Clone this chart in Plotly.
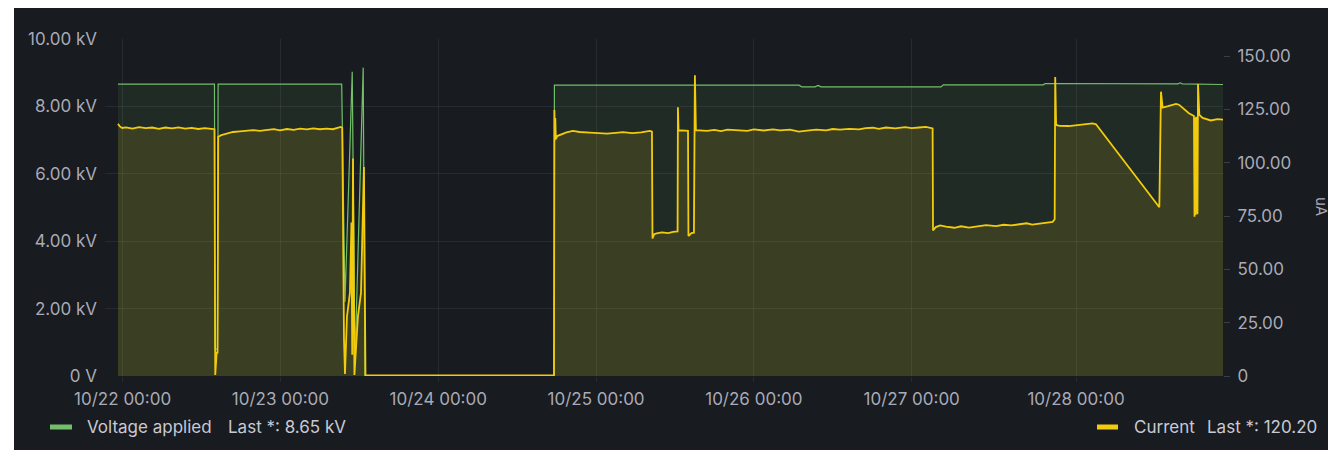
import plotly.graph_objects as go

# ---------------- data ----------------
voltage_time = [
    "2023-10-21 23:17", "2023-10-22 13:58", "2023-10-22 14:03", "2023-10-22 14:25", "2023-10-22 14:31",
    "2023-10-23 09:19", "2023-10-23 09:49", "2023-10-23 10:55", "2023-10-23 11:20", "2023-10-23 12:35",
    "2023-10-23 12:51", "2023-10-24 17:36", "2023-10-24 17:40",
    "2023-10-26 06:52", "2023-10-26 07:18", "2023-10-26 09:18", "2023-10-26 09:46", "2023-10-26 10:13",
    "2023-10-27 04:28", "2023-10-27 04:48", "2023-10-27 20:00", "2023-10-27 20:18",
    "2023-10-28 16:30", "2023-10-28 16:50", "2023-10-28 17:10", "2023-10-28 23:23",
]
voltage_kv = [
    8.66, 8.66, 0.8, 0.8, 8.66,
    8.66, 2.2, 9.03, 0.4, 9.15,
    0.0, 0.0, 8.63,
    8.63, 8.58, 8.58, 8.62, 8.58,
    8.58, 8.64, 8.64, 8.68,
    8.67, 8.70, 8.67, 8.65,
]

current_time = [
    "2023-10-21 23:17", "2023-10-21 23:35", "2023-10-21 23:55", "2023-10-22 00:30", "2023-10-22 01:30",
    "2023-10-22 02:30", "2023-10-22 03:30", "2023-10-22 04:30", "2023-10-22 05:30", "2023-10-22 06:30",
    "2023-10-22 07:30", "2023-10-22 08:30", "2023-10-22 09:30", "2023-10-22 10:30", "2023-10-22 11:30",
    "2023-10-22 12:30", "2023-10-22 13:30", "2023-10-22 13:58", "2023-10-22 14:05", "2023-10-22 14:18",
    "2023-10-22 14:26", "2023-10-22 14:32", "2023-10-22 15:00", "2023-10-22 15:40", "2023-10-22 16:47",
    "2023-10-22 17:50", "2023-10-22 18:50", "2023-10-22 19:50", "2023-10-22 20:50", "2023-10-22 21:57",
    "2023-10-22 23:00", "2023-10-22 23:55", "2023-10-23 01:00", "2023-10-23 02:00", "2023-10-23 03:00",
    "2023-10-23 04:00", "2023-10-23 05:00", "2023-10-23 06:00", "2023-10-23 07:00", "2023-10-23 07:59",
    "2023-10-23 08:40", "2023-10-23 09:10", "2023-10-23 09:24", "2023-10-23 09:29", "2023-10-23 09:40",
    "2023-10-23 09:49", "2023-10-23 10:07", "2023-10-23 10:34", "2023-10-23 10:48", "2023-10-23 10:55",
    "2023-10-23 11:02", "2023-10-23 11:15", "2023-10-23 11:34", "2023-10-23 11:47", "2023-10-23 12:15",
    "2023-10-23 12:24", "2023-10-23 12:42", "2023-10-23 12:56", "2023-10-24 17:36", "2023-10-24 17:40",
    "2023-10-24 17:44", "2023-10-24 17:48", "2023-10-24 17:53", "2023-10-24 18:05", "2023-10-24 18:30",
    "2023-10-24 19:30", "2023-10-24 20:28", "2023-10-24 21:30", "2023-10-24 23:04", "2023-10-25 00:20",
    "2023-10-25 01:40", "2023-10-25 03:00", "2023-10-25 04:05", "2023-10-25 05:30", "2023-10-25 06:50",
    "2023-10-25 08:12", "2023-10-25 08:30", "2023-10-25 08:35", "2023-10-25 08:50", "2023-10-25 09:13",
    "2023-10-25 10:00", "2023-10-25 11:00", "2023-10-25 11:42", "2023-10-25 12:24", "2023-10-25 12:27",
    "2023-10-25 12:33", "2023-10-25 13:00", "2023-10-25 13:59", "2023-10-25 14:03", "2023-10-25 14:30",
    "2023-10-25 14:53", "2023-10-25 15:02", "2023-10-25 15:11", "2023-10-25 16:52", "2023-10-25 18:00",
    "2023-10-25 19:00", "2023-10-25 20:00", "2023-10-25 21:53", "2023-10-25 23:00", "2023-10-26 00:00",
    "2023-10-26 01:30", "2023-10-26 02:55", "2023-10-26 04:00", "2023-10-26 05:30", "2023-10-26 06:50",
    "2023-10-26 08:05", "2023-10-26 09:30", "2023-10-26 11:00", "2023-10-26 12:00", "2023-10-26 13:06",
    "2023-10-26 14:30", "2023-10-26 16:00", "2023-10-26 17:00", "2023-10-26 18:07", "2023-10-26 19:00",
    "2023-10-26 20:06", "2023-10-26 21:30", "2023-10-26 23:00", "2023-10-27 00:00", "2023-10-27 01:07",
    "2023-10-27 02:10", "2023-10-27 03:11", "2023-10-27 03:15", "2023-10-27 03:40", "2023-10-27 04:20",
    "2023-10-27 05:13", "2023-10-27 06:30", "2023-10-27 07:30", "2023-10-27 08:43", "2023-10-27 10:00",
    "2023-10-27 11:20", "2023-10-27 12:49", "2023-10-27 14:00", "2023-10-27 15:10", "2023-10-27 16:19",
    "2023-10-27 17:30", "2023-10-27 18:20", "2023-10-27 19:22", "2023-10-27 20:30", "2023-10-27 21:26",
    "2023-10-27 21:45", "2023-10-27 21:50", "2023-10-27 21:58", "2023-10-27 22:30", "2023-10-27 23:55",
    "2023-10-28 01:00", "2023-10-28 02:30", "2023-10-28 03:30", "2023-10-28 04:02", "2023-10-28 13:40",
    "2023-10-28 13:55", "2023-10-28 14:10", "2023-10-28 15:00", "2023-10-28 16:12", "2023-10-28 16:39",
    "2023-10-28 17:20", "2023-10-28 18:10", "2023-10-28 18:56", "2023-10-28 19:01", "2023-10-28 19:06",
    "2023-10-28 19:10", "2023-10-28 19:15", "2023-10-28 19:19", "2023-10-28 19:24", "2023-10-28 19:28",
    "2023-10-28 19:33", "2023-10-28 19:45", "2023-10-28 20:15", "2023-10-28 20:46", "2023-10-28 21:30",
    "2023-10-28 22:30", "2023-10-28 23:23",
]
current_ua = [
    118.2, 117.0, 116.3, 116.6, 116.0,
    116.7, 116.2, 116.5, 115.9, 116.5,
    116.1, 116.6, 116.0, 116.3, 115.8,
    116.2, 115.9, 115.7, 0.5, 11.0,
    11.0, 112.2, 112.9, 113.6, 114.4,
    114.7, 115.1, 115.3, 114.9, 115.4,
    115.7, 115.2, 115.8, 115.4, 116.0,
    115.6, 116.1, 115.7, 116.0, 115.7,
    116.3, 116.8, 116.4, 68.0, 17.0,
    1.0, 28.0, 39.0, 72.0, 10.0,
    102.0, 0.5, 18.0, 28.0, 39.0,
    62.0, 98.0, 0.3, 0.3, 124.7,
    110.5, 121.0, 111.0, 112.5, 113.0,
    114.2, 114.9, 114.4, 114.1, 113.9,
    113.6, 114.0, 114.3, 113.9, 114.2,
    114.9, 114.6, 64.5, 66.5, 66.9,
    67.3, 67.0, 67.6, 67.8, 126.0,
    115.0, 115.2, 114.9, 65.6, 67.0,
    67.2, 141.0, 115.3, 114.9, 115.4,
    114.8, 115.5, 115.3, 114.9, 115.6,
    115.1, 115.6, 115.2, 115.5, 114.6,
    115.0, 115.5, 115.2, 115.8, 115.5,
    115.9, 115.6, 116.2, 116.4, 115.9,
    116.5, 116.1, 116.7, 116.2, 116.5,
    116.8, 116.1, 68.2, 69.8, 70.6,
    70.0, 69.5, 70.2, 69.6, 70.1,
    70.7, 70.3, 70.9, 70.6, 71.2,
    71.6, 71.0, 71.4, 71.8, 72.3,
    73.5, 140.2, 117.7, 117.3, 117.2,
    117.6, 117.8, 118.4, 118.0, 79.1,
    133.3, 125.8, 126.5, 127.6, 127.2,
    125.2, 123.2, 121.9, 74.7, 121.0,
    75.5, 121.5, 76.4, 121.2, 75.8,
    136.9, 122.4, 121.0, 120.5, 119.8,
    120.4, 120.2,
]

x_range = ["2023-10-21 21:19", "2023-10-28 23:21"]
x_tickvals = ["2023-10-22 00:00", "2023-10-23 00:00", "2023-10-24 00:00", "2023-10-25 00:00",
              "2023-10-26 00:00", "2023-10-27 00:00", "2023-10-28 01:00"]
x_ticktext = ["10/22 00:00", "10/23 00:00", "10/24 00:00", "10/25 00:00",
              "10/26 00:00", "10/27 00:00", "10/28 00:00"]
kv_tickvals = [0, 2, 4, 6, 8, 10]
kv_ticktext = ["0 V", "2.00 kV", "4.00 kV", "6.00 kV", "8.00 kV", "10.00 kV"]
ua_tickvals = [0, 25, 50, 75, 100, 125, 150]
ua_ticktext = ["0", "25.00", "50.00", "75.00", "100.00", "125.00", "150.00"]

voltage_name = "Voltage applied"
voltage_last = "Last *: 8.65 kV"
current_name = "Current"
current_last = "Last *: 120.20"

# ---------------- style ----------------
SW, SH = 1336, 450          # screen size
OFF = 8                     # page body margin
W, H = SW - OFF, SH - OFF   # figure size
PL, PR, PT, PB = 105, 1223, 39, 376   # plot area in screen pixels
BG = "#181b1f"
GRID = "rgba(204,204,220,0.09)"
TXT = "rgba(204,204,220,0.82)"
LEG = "#c9c9d4"
GREEN = "#73BF69"
YELLOW = "#F2CC0C"
FONT = "Inter, Roboto, sans-serif"


def px(x):
    return (x - PL) / (PR - PL)


def py(y):
    return (PB - y) / (PB - PT)


fig = go.Figure()
fig.add_trace(go.Scatter(
    x=voltage_time, y=voltage_kv, mode="lines", name=voltage_name,
    line=dict(color=GREEN, width=1.2), fill="tozeroy",
    fillcolor="rgba(115,191,105,0.10)", yaxis="y", showlegend=False,
))
fig.add_trace(go.Scatter(
    x=current_time, y=current_ua, mode="lines", name=current_name,
    line=dict(color=YELLOW, width=1.8), fill="tozeroy",
    fillcolor="rgba(242,204,12,0.12)", yaxis="y2", showlegend=False,
))

shapes = [
    dict(type="rect", xref="paper", yref="paper", x0=px(14), x1=px(SW + 2), y0=py(SH + 2), y1=py(5),
         fillcolor=BG, line=dict(width=0), layer="below"),
    dict(type="line", xref="paper", yref="paper", x0=px(50), x1=px(72), y0=py(427), y1=py(427),
         line=dict(color=GREEN, width=5)),
    dict(type="line", xref="paper", yref="paper", x0=px(1097), x1=px(1118), y0=py(427), y1=py(427),
         line=dict(color=YELLOW, width=5)),
]

ann_font = dict(family=FONT, size=17, color=LEG)
annotations = [
    dict(text=voltage_name, x=px(85), y=py(427), xref="paper", yref="paper",
         xanchor="left", yanchor="middle", showarrow=False, font=ann_font),
    dict(text=voltage_last, x=px(226), y=py(427), xref="paper", yref="paper",
         xanchor="left", yanchor="middle", showarrow=False, font=ann_font),
    dict(text=current_name, x=px(1132), y=py(427), xref="paper", yref="paper",
         xanchor="left", yanchor="middle", showarrow=False, font=ann_font),
    dict(text=current_last, x=px(1205), y=py(427), xref="paper", yref="paper",
         xanchor="left", yanchor="middle", showarrow=False, font=ann_font),
    dict(text="uA", x=px(1322), y=py(206), xref="paper", yref="paper", textangle=90,
         xanchor="center", yanchor="middle", showarrow=False,
         font=dict(family=FONT, size=15, color=TXT)),
]

tick_font = dict(family=FONT, size=17, color=TXT)
fig.update_layout(
    width=W, height=H,
    margin=dict(l=PL - OFF, r=SW - PR, t=PT - OFF, b=SH - PB, pad=0),
    paper_bgcolor="white", plot_bgcolor=BG,
    font=dict(family=FONT, color=TXT),
    showlegend=False,
    xaxis=dict(type="date", range=x_range, tickvals=x_tickvals, ticktext=x_ticktext,
               showgrid=True, gridcolor=GRID, gridwidth=1, zeroline=False, showline=False,
               ticks="outside", ticklen=5, tickcolor=GRID, tickfont=tick_font,
               ticklabelstandoff=3),
    yaxis=dict(range=[0, 10], tickvals=kv_tickvals, ticktext=kv_ticktext,
               showgrid=True, gridcolor=GRID, gridwidth=1, zeroline=False, showline=False,
               ticks="", tickfont=tick_font, ticklabelstandoff=7),
    yaxis2=dict(range=[0, 158], tickvals=ua_tickvals, ticktext=ua_ticktext, overlaying="y",
                side="right", showgrid=False, zeroline=False, showline=False,
                ticks="outside", ticklen=6, tickcolor="rgba(204,204,220,0.2)",
                tickfont=tick_font, ticklabelstandoff=4),
    shapes=shapes, annotations=annotations,
)

fig.write_html("out.html")
